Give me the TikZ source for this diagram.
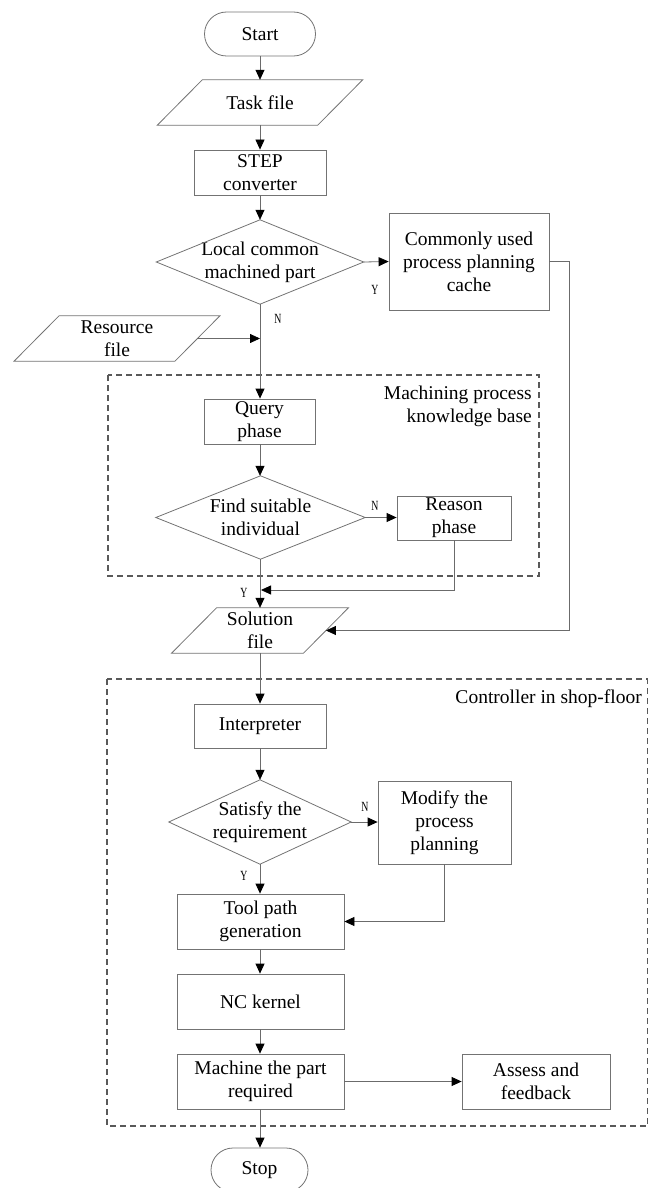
\documentclass[tikz,border=0pt]{standalone}
\usepackage{fontspec}
\setmainfont{Liberation Serif}
\usetikzlibrary{arrows.meta,calc}
\definecolor{linegray}{gray}{0.42}
\definecolor{shapegray}{gray}{0.45}
\definecolor{dashgray}{gray}{0.35}
\begin{document}
\begin{tikzpicture}[x=1pt,y=-1pt,
  every node/.style={font=\fontsize{19.5}{23}\selectfont, align=center, inner sep=0pt, text=black},
  proc/.style={draw=shapegray, line width=0.8pt, rectangle},
  term/.style={draw=shapegray, line width=0.8pt, rounded corners=22pt, minimum height=44pt},
  holder/.style={rectangle},
  paraholder/.style={rectangle, minimum height=45pt},
  shapeline/.style={draw=shapegray, line width=0.8pt},
  conn/.style={draw=linegray, line width=0.8pt, -{Triangle[length=10pt,width=9pt,color=black]}},
  lbl/.style={font=\fontsize{14}{14}\selectfont, xscale=0.7, transform shape},
  grp/.style={draw=dashgray, line width=1.1pt, dash pattern=on 6pt off 4pt}
]
\useasboundingbox (0,0) rectangle (649,1188);

% group frames
\draw[grp] (108,375) rectangle (539,576);
\draw[grp] (107,679) rectangle (647.5,1126);
\node[anchor=east, align=right] (kbl) at (532,406.5) {Machining process\\knowledge base};
\node[anchor=east] (ctl) at (642,699) {Controller in shop-floor};

% nodes
\node[term, minimum width=111pt] (start) at (260,34) {Start};
\node[paraholder, minimum width=160pt] (task) at (260,102.5) {Task file};
\node[proc, minimum width=132pt, minimum height=45pt] (step) at (260,172.5) {STEP\\converter};
\node[holder, minimum width=207pt, minimum height=84pt] (d1) at (260,262) {Local common\\machined part};
\node[proc, minimum width=160pt, minimum height=97pt] (cache) at (469,261.5) {Commonly used\\process planning\\cache};
\node[paraholder, minimum width=160.5pt] (res) at (117,338.5) {Resource\\file};
\node[proc, minimum width=111pt, minimum height=45pt] (query) at (259.5,421.5) {Query\\phase};
\node[holder, minimum width=209pt, minimum height=83pt] (d2) at (260.5,517.5) {Find suitable\\individual};
\node[proc, minimum width=114pt, minimum height=44pt] (reason) at (454,518) {Reason\\phase};
\node[paraholder, minimum width=131.5pt] (sol) at (260,630.5) {Solution\\file};
\node[proc, minimum width=132pt, minimum height=44pt] (interp) at (260,726) {Interpreter};
\node[holder, minimum width=182pt, minimum height=84pt] (d3) at (260,822) {Satisfy the\\requirement};
\node[proc, minimum width=133pt, minimum height=83pt] (modify) at (444.5,822.5) {Modify the\\process\\planning};
\node[proc, minimum width=167pt, minimum height=55pt] (tool) at (260.5,921.5) {Tool path\\generation};
\node[proc, minimum width=167pt, minimum height=55pt] (nc) at (260.5,1001.5) {NC kernel};
\node[proc, minimum width=167pt, minimum height=55pt] (mach) at (260.5,1081.5) {Machine the part\\required};
\node[proc, minimum width=148pt, minimum height=55pt] (assess) at (536,1081.5) {Assess and\\feedback};
\node[term, minimum width=97pt] (stop) at (259.5,1170) {Stop};

% parallelogram outlines
\foreach \n in {task,res,sol}{
  \draw[shapeline] ($(\n.north west)+(22.5,0)$) -- ($(\n.north east)+(22.5,0)$)
    -- ($(\n.south east)-(22.5,0)$) -- ($(\n.south west)-(22.5,0)$) -- cycle;
}
% diamond outlines
\foreach \n in {d1,d2,d3}{
  \draw[shapeline] (\n.north) -- (\n.east) -- (\n.south) -- (\n.west) -- cycle;
}

% junction coordinates
\coordinate (j1) at (261,590);
\coordinate (c1) at (569,261.5);

% connectors
\draw[conn] (start.south) -- (task.north);
\draw[conn] (task.south) -- (step.north);
\draw[conn] (step.south) -- (d1.north);
\draw[conn] (d1.east) -- (cache.west);
\draw[conn] (d1.south) -- (query.north -| d1.south);
\draw[conn] (res.east) -- (res.east -| d1.south);
\draw[conn] (query.south -| d1.south) -- (d2.north -| d1.south);
\draw[conn] (d2.east) -- (reason.west |- d2.east);
\draw[conn] (reason.south) |- (j1);
\draw[conn] (d2.south -| d1.south) -- (sol.north);
\draw[conn] (cache.east) -- (c1) |- (sol.east);
\draw[conn] (sol.south) -- (interp.north);
\draw[conn] (interp.south) -- (d3.north);
\draw[conn] (d3.east) -- (modify.west |- d3.east);
\draw[conn] (d3.south) -- (tool.north -| d3.south);
\draw[conn] (modify.south) |- (tool.east);
\draw[conn] (tool.south -| d3.south) -- (nc.north -| d3.south);
\draw[conn] (nc.south -| d3.south) -- (mach.north -| d3.south);
\draw[conn] (mach.east) -- (assess.west);
\draw[conn] (mach.south -| d3.south) -- (stop.north -| d3.south);

% branch labels
\node[lbl] (n1) at (278,319) {N};
\node[lbl] (y1) at (375,290) {Y};
\node[lbl] (n2) at (375,506) {N};
\node[lbl] (y2) at (244,593) {Y};
\node[lbl] (n3) at (365,807) {N};
\node[lbl] (y3) at (244,876) {Y};
\end{tikzpicture}
\end{document}
